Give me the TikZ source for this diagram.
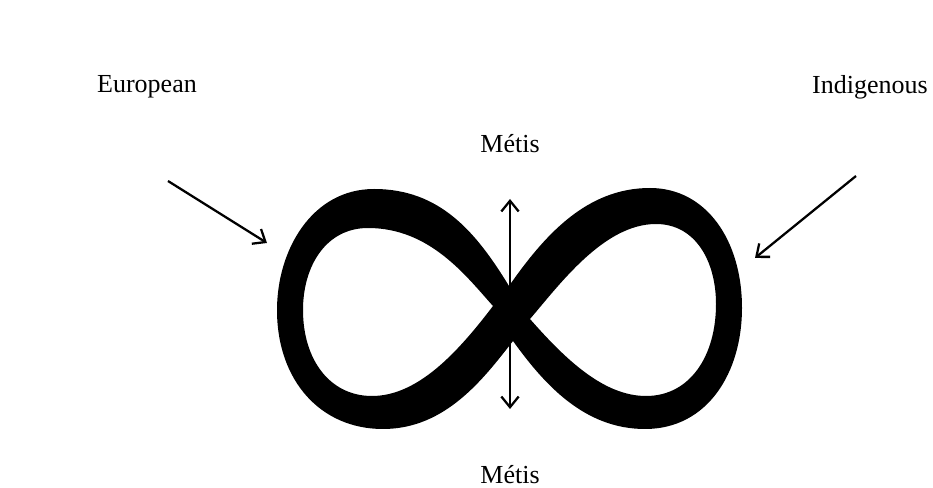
\documentclass[tikz,border=0pt]{standalone}
\usepackage{fontspec}
\setmainfont{Liberation Serif}
\usetikzlibrary{arrows.meta}

\tikzset{
  word/.style={font=\fontsize{19.5}{23}\selectfont, inner sep=0pt, anchor=base},
  pointer/.style={->, line width=1.7pt}
}

\begin{document}
\begin{tikzpicture}[x=0.75pt, y=-0.75pt, >={Straight Barb[length=8pt,width=13pt]}]
\useasboundingbox (0,0) rectangle (933,488);
% infinity sign
\fill[black, even odd rule] (509,286) .. controls (476,232) and (440,189) .. (374,189)
  .. controls (312,189) and (277,250) .. (277,310)
  .. controls (277,380) and (320,429) .. (383,429)
  .. controls (446,429) and (484,378) .. (513,341)
  .. controls (544,384) and (584,429) .. (645,429)
  .. controls (708,429) and (742,372) .. (742,308)
  .. controls (742,240) and (706,188) .. (650,188)
  .. controls (586,188) and (544,236) .. (509,286) -- cycle
  (493,306) .. controls (466,276) and (430,228) .. (368,228)
  .. controls (326,228) and (303,266) .. (303,310)
  .. controls (303,360) and (330,396) .. (372,396)
  .. controls (418,396) and (458,352) .. (493,306) -- cycle
  (530,319) .. controls (560,284) and (604,224) .. (656,224)
  .. controls (696,224) and (716,262) .. (716,304)
  .. controls (716,356) and (690,396) .. (646,396)
  .. controls (604,396) and (566,360) .. (530,319) -- cycle;
% labels
\node[word] (euro) at (147,93) {European};
\node[word] (indig) at (870,94) {Indigenous};
\node[word] (metistop) at (510,153) {Métis};
\node[word] (metisbot) at (510,484) {Métis};
% arrow ends
\coordinate (eurostart) at (168,181);
\coordinate (euroend) at (267,243);
\coordinate (indigstart) at (856,176);
\coordinate (indigend) at (755,258);
\coordinate (mtop) at (510,199);
\coordinate (mbot) at (510,409);
\draw[pointer] (eurostart) -- (euroend);
\draw[pointer] (indigstart) -- (indigend);
\draw[pointer, <->] (mbot) -- (mtop);
\end{tikzpicture}
\end{document}
